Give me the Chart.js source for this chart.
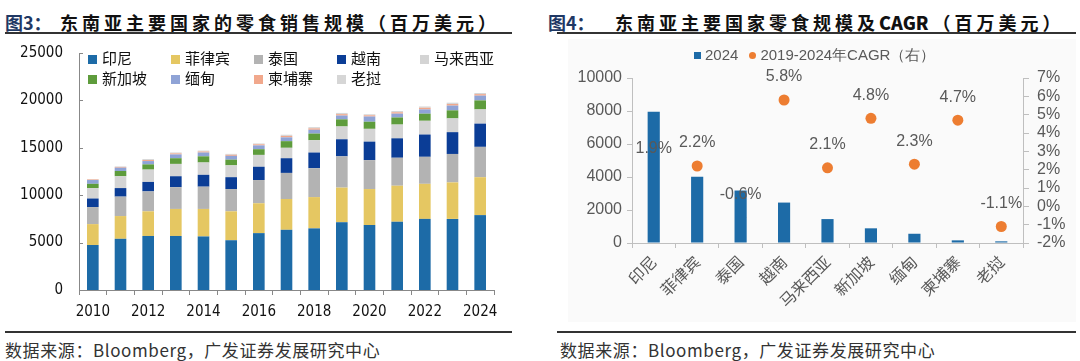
<!DOCTYPE html>
<html>
<head>
<meta charset="utf-8">
<script src="https://cdn.jsdelivr.net/npm/chart.js@4.4.1/dist/chart.umd.min.js"></script>
<style>
    body { margin: 0; width: 1080px; height: 361px; background: #fff; position: relative; overflow: hidden; font-family: "Noto Sans CJK SC", sans-serif; }
    .abs { position: absolute; }
    .title { top: 10px; height: 24px; line-height: 24px; font-size: 18px; font-weight: 700; color: #111; letter-spacing: 4px; white-space: nowrap; }
    .title b { letter-spacing: 0; margin-right: 4px; }
    .fig { top: 10px; height: 24px; line-height: 24px; font-size: 18px; font-weight: 700; color: #1f3864; white-space: nowrap; }
    .rule { height: 2px; background: #333; }
    .source { top: 339px; height: 22px; line-height: 22px; font-size: 17px; color: #333; letter-spacing: 0.6px; white-space: nowrap; }
    .lg { font-size: 15px; color: #111; white-space: nowrap; line-height: 18px; height: 18px; }
    .lg i { display: inline-block; width: 9px; height: 9px; margin-right: 5px; vertical-align: 0px; }
    .lg2 { font-family: "Liberation Sans", sans-serif; font-size: 15px; color: #595959; white-space: nowrap; line-height: 18px; }
</style>
</head>
<body>

<div class="abs fig" style="left:5px">图3：</div>
<div class="abs title" style="left:60px">东南亚主要国家的零食销售规模（百万美元）</div>
<div class="abs rule" style="left:5px; width:507px; top:32px"></div>
<div class="abs rule" style="left:5px; width:507px; top:331px"></div>
<div class="abs source" style="left:5px">数据来源：Bloomberg，广发证券发展研究中心</div>

<div class="abs fig" style="left:548px">图4：</div>
<div class="abs title" style="left:615px">东南亚主要国家零食规模及<b>CAGR</b>（百万美元）</div>
<div class="abs rule" style="left:557px; width:519px; top:32px"></div>
<div class="abs rule" style="left:557px; width:519px; top:331px"></div>
<div class="abs source" style="left:560px">数据来源：Bloomberg，广发证券发展研究中心</div>

<div class="abs" style="left:568px; top:39px; width:508px; height:283px; background:#fafafa"></div>

<canvas id="leftChart" class="abs" style="left:0px; top:28px" width="520" height="302"></canvas>
<canvas id="rightChart" class="abs" style="left:560px; top:36px" width="520" height="294"></canvas>
<div id="leftLegend"></div>
<div id="rightLegend"></div>

<script>
// 图3 data (百万美元)
const years = ['2010', '2011', '2012', '2013', '2014', '2015', '2016', '2017', '2018', '2019', '2020', '2021', '2022', '2023', '2024'];
const indonesia = [4750, 5400, 5700, 5700, 5650, 5250, 6000, 6350, 6500, 7150, 6850, 7200, 7500, 7500, 7900];
const philippines = [2200, 2400, 2600, 2850, 2900, 3050, 3150, 3250, 3300, 3650, 3800, 3800, 3700, 3850, 4000];
const thailand = [1800, 2050, 2100, 2300, 2350, 2350, 2450, 2750, 3050, 3300, 3050, 2950, 2850, 3000, 3200];
const vietnam = [900, 900, 1000, 1150, 1250, 1250, 1400, 1550, 1650, 1800, 1950, 2050, 2350, 2300, 2450];
const malaysia = [1100, 1250, 1300, 1300, 1300, 1250, 1250, 1100, 1300, 1350, 1350, 1450, 1450, 1450, 1500];
const singapore = [450, 550, 550, 600, 650, 600, 600, 700, 700, 750, 750, 750, 750, 850, 950];
const myanmar = [400, 350, 350, 400, 400, 400, 400, 400, 400, 400, 550, 400, 450, 500, 500];
const cambodia = [60, 80, 110, 110, 110, 110, 120, 150, 150, 150, 130, 150, 170, 170, 160];
const laos = [50, 60, 100, 100, 100, 100, 90, 130, 130, 130, 110, 130, 140, 140, 120];
const leftTicks = [0, 5000, 10000, 15000, 20000, 25000];

// 图4 data
const countries = ['印尼', '菲律宾', '泰国', '越南', '马来西亚', '新加坡', '缅甸', '柬埔寨', '老挝'];
const size2024 = [7950, 4020, 3180, 2450, 1450, 890, 560, 160, 100];
const cagr = [1.9, 2.2, -0.6, 5.8, 2.1, 4.8, 2.3, 4.7, -1.1];

const numFont = "'DejaVu Sans Condensed', 'Liberation Sans', sans-serif";
const cjkFont = "'Noto Sans CJK SC', sans-serif";

// ---------- left stacked chart ----------
const series = [
    { label: '印尼', data: indonesia, color: '#1d6ba7' },
    { label: '菲律宾', data: philippines, color: '#e5c762' },
    { label: '泰国', data: thailand, color: '#b3b3b3' },
    { label: '越南', data: vietnam, color: '#0b3d96' },
    { label: '马来西亚', data: malaysia, color: '#d4d4d4' },
    { label: '新加坡', data: singapore, color: '#5e9c3c' },
    { label: '缅甸', data: myanmar, color: '#8fa3d6' },
    { label: '柬埔寨', data: cambodia, color: '#f1a88c' },
    { label: '老挝', data: laos, color: '#d6d6d6' }
];

// small inward tick marks on the left y axis, like the original
const innerTicks = {
    id: 'innerTicks',
    afterDraw(chart) {
        const ctx = chart.ctx;
        const y = chart.scales.y;
        ctx.save();
        ctx.strokeStyle = '#888';
        ctx.lineWidth = 1;
        leftTicks.forEach(v => {
            const py = Math.round(y.getPixelForValue(v)) + 0.5;
            ctx.beginPath();
            ctx.moveTo(y.right, py);
            ctx.lineTo(y.right + 4, py);
            ctx.stroke();
        });
        ctx.restore();
    }
};

new Chart(document.getElementById('leftChart').getContext('2d'), {
    type: 'bar',
    data: {
        labels: years,
        datasets: series.map(s => ({
            label: s.label,
            data: s.data,
            backgroundColor: s.color,
            borderWidth: 0,
            categoryPercentage: 1,
            barPercentage: 0.42
        }))
    },
    options: {
        responsive: false,
        animation: false,
        layout: { padding: { top: 0, right: 26, left: 0, bottom: 0 } },
        plugins: { legend: { display: false }, tooltip: { enabled: false } },
        scales: {
            x: {
                stacked: true,
                afterFit: function (scale) { scale.height = 40; },
                grid: { drawOnChartArea: false, drawTicks: true, tickLength: 5, color: '#888' },
                border: { color: '#888' },
                ticks: {
                    autoSkip: false, maxRotation: 0, padding: 8,
                    color: '#111', font: { family: numFont, size: 15 },
                    callback: function (v, i) { return i % 2 === 0 ? years[i] : ''; }
                }
            },
            y: {
                stacked: true,
                min: 0, max: 25000,
                afterFit: function (scale) { scale.width = 79; },
                afterBuildTicks: function (scale) { scale.ticks = leftTicks.map(v => ({ value: v })); },
                grid: { display: false, drawTicks: false },
                border: { color: '#888' },
                ticks: {
                    padding: 16, color: '#111', font: { family: numFont, size: 15 },
                    callback: function (v) { return String(v); }
                }
            }
        }
    },
    plugins: [innerTicks]
});

// html legend for left chart, 5 columns
const leftLegend = document.getElementById('leftLegend');
series.forEach((s, i) => {
    const col = i % 5, row = Math.floor(i / 5);
    const d = document.createElement('div');
    d.className = 'abs lg';
    d.style.left = (88 + col * 83) + 'px';
    d.style.top = (49 + row * 20) + 'px';
    d.innerHTML = '<i style="background:' + s.color + '"></i>' + s.label;
    leftLegend.appendChild(d);
});

// ---------- right combo chart ----------
const cagrLabels = {
    id: 'cagrLabels',
    afterDatasetsDraw(chart) {
        const ctx = chart.ctx;
        const meta = chart.getDatasetMeta(1);
        ctx.save();
        ctx.font = "16px 'Liberation Sans', sans-serif";
        ctx.fillStyle = '#595959';
        ctx.textAlign = 'center';
        ctx.textBaseline = 'middle';
        meta.data.forEach((pt, i) => {
            ctx.fillText(cagr[i].toFixed(1) + '%', pt.x, pt.y - 23);
        });
        ctx.restore();
    }
};

new Chart(document.getElementById('rightChart').getContext('2d'), {
    type: 'bar',
    data: {
        labels: countries,
        datasets: [{
            type: 'bar',
            label: '2024',
            data: size2024,
            backgroundColor: '#1d6ba7',
            categoryPercentage: 1,
            barPercentage: 0.28,
            yAxisID: 'y'
        }, {
            type: 'line',
            label: '2019-2024年CAGR（右）',
            data: cagr,
            showLine: false,
            pointRadius: 5.5,
            pointBackgroundColor: '#ed7d31',
            pointBorderWidth: 0,
            yAxisID: 'y1'
        }]
    },
    options: {
        responsive: false,
        animation: false,
        layout: { padding: { top: 42, right: 0, left: 0, bottom: 0 } },
        plugins: { legend: { display: false }, tooltip: { enabled: false } },
        scales: {
            x: {
                afterFit: function (scale) { scale.height = 87; },
                grid: { drawOnChartArea: false, drawTicks: true, tickLength: 5, color: '#bfbfbf' },
                border: { color: '#bfbfbf' },
                ticks: {
                    autoSkip: false, minRotation: 45, maxRotation: 45, padding: 4,
                    color: '#595959', font: { family: cjkFont, size: 16 }
                }
            },
            y: {
                position: 'left',
                min: 0, max: 10000,
                afterFit: function (scale) { scale.width = 72; },
                grid: { drawOnChartArea: false, drawTicks: true, tickLength: 5, color: '#bfbfbf' },
                border: { color: '#bfbfbf' },
                ticks: {
                    stepSize: 2000, padding: 5, color: '#595959',
                    font: { family: "'Liberation Sans', sans-serif", size: 16 },
                    callback: function (v) { return String(v); }
                }
            },
            y1: {
                position: 'right',
                min: -2, max: 7,
                afterFit: function (scale) { scale.width = 57; },
                grid: { drawOnChartArea: false, drawTicks: true, tickLength: 6, color: '#bfbfbf' },
                border: { color: '#bfbfbf' },
                ticks: {
                    stepSize: 1, autoSkip: false, padding: 8, color: '#595959',
                    font: { family: "'Liberation Sans', sans-serif", size: 16 },
                    callback: function (v) { return v + '%'; }
                }
            }
        }
    },
    plugins: [cagrLabels]
});

// html legend for right chart
const rightLegend = document.getElementById('rightLegend');
rightLegend.className = 'abs lg2';
rightLegend.style.left = '694px';
rightLegend.style.top = '46px';
rightLegend.innerHTML =
    '<i style="display:inline-block;width:7px;height:7px;background:#1d6ba7;margin-right:4px;vertical-align:1px"></i>2024' +
    '<i style="display:inline-block;width:7px;height:7px;border-radius:50%;background:#ed7d31;margin:0 4px 0 11px;vertical-align:1px"></i>2019-2024年CAGR（右）';
</script>
</body>
</html>
